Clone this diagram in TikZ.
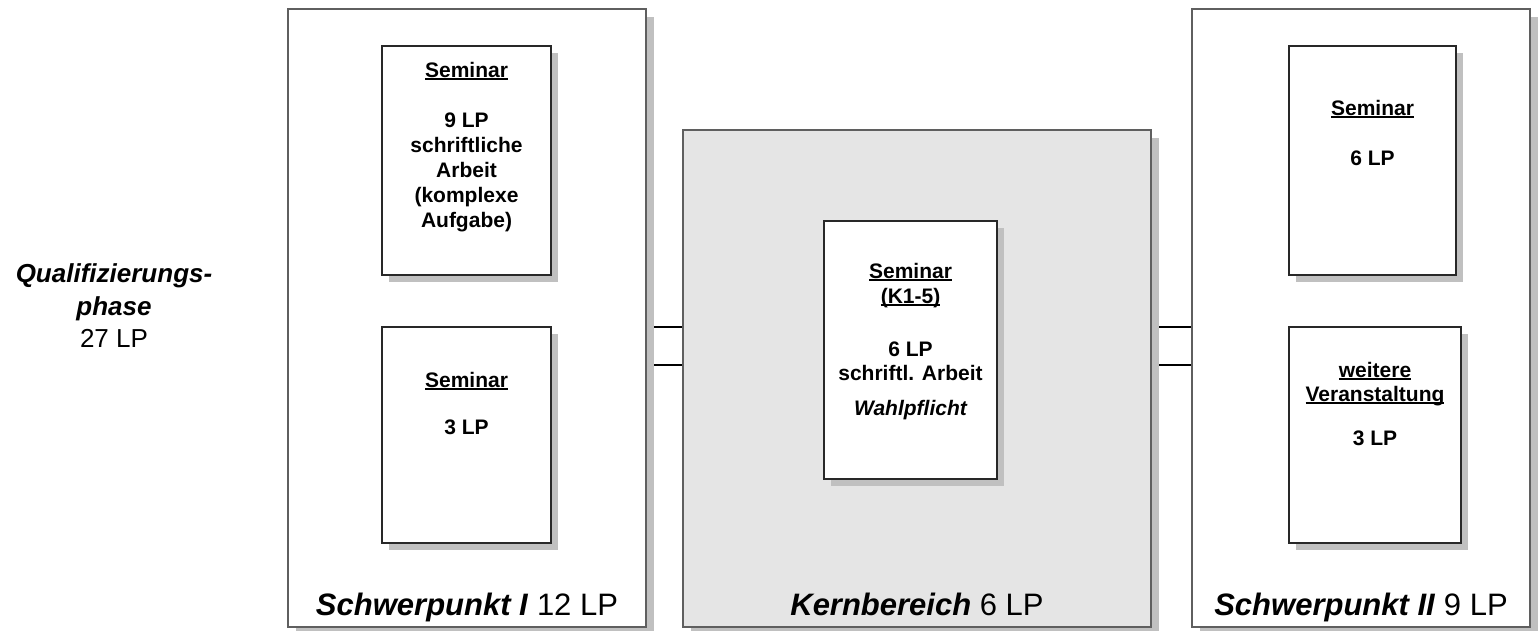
\documentclass[tikz,border=0pt]{standalone}
\usepackage{fontspec}
\setmainfont{Liberation Sans}
\usetikzlibrary{shadows,backgrounds}
\definecolor{shadowgray}{RGB}{192,192,192}
\definecolor{kernfill}{RGB}{229,229,229}
\definecolor{outerline}{RGB}{95,95,95}
\definecolor{innerline}{RGB}{40,40,40}
\newcommand{\undl}[1]{\setbox0\hbox{#1}\leavevmode\rlap{\rule[-3pt]{\wd0}{1.6pt}}\box0}
\begin{document}
\begin{tikzpicture}[x=1pt,y=-1pt,
  outerbox/.style={rectangle, draw=outerline, line width=1.5pt, fill=white,
    inner sep=0pt, outer sep=0pt, anchor=north west,
    general shadow={fill=shadowgray, shadow xshift=8pt, shadow yshift=-8pt}},
  innerbox/.style={rectangle, draw=innerline, line width=1.5pt, fill=white,
    inner sep=0pt, outer sep=0pt, anchor=north west,
    general shadow={fill=shadowgray, shadow xshift=7pt, shadow yshift=-7pt}},
  boxtext/.style={font=\fontsize{21}{25}\selectfont\bfseries, inner sep=0pt, anchor=base},
  bigtext/.style={font=\fontsize{31}{37}\selectfont, inner sep=0pt, anchor=base},
  sidetext/.style={font=\fontsize{26}{33}\selectfont, inner sep=0pt, anchor=base},
  connector/.style={draw=black, line width=2pt}]
\useasboundingbox (0,0) rectangle (1539,630);

% outer boxes
\node[outerbox, minimum width=358pt, minimum height=618pt] (S1) at (288,9) {};
\node[outerbox, fill=kernfill, minimum width=468pt, minimum height=497pt] (K) at (683,130) {};
\node[outerbox, minimum width=338pt, minimum height=618pt] (S2) at (1192,9) {};

% connectors
\begin{pgfonlayer}{background}
\draw[connector] ([yshift=-9pt]S1.east) -- ([yshift=-9pt]S1.east -| K.west);
\draw[connector] ([yshift=-47pt]S1.east) -- ([yshift=-47pt]S1.east -| K.west);
\draw[connector] ([yshift=-9pt]S2.west) -- ([yshift=-9pt]S2.west -| K.east);
\draw[connector] ([yshift=-47pt]S2.west) -- ([yshift=-47pt]S2.west -| K.east);
\end{pgfonlayer}

% inner boxes
\node[innerbox, minimum width=169pt, minimum height=229pt] (b1) at (382,46) {};
\node[innerbox, minimum width=169pt, minimum height=216pt] (b2) at (382,327) {};
\node[innerbox, minimum width=173pt, minimum height=258pt] (bk) at (824,221) {};
\node[innerbox, minimum width=167pt, minimum height=229pt] (b3) at (1289,46) {};
\node[innerbox, minimum width=172pt, minimum height=216pt] (b4) at (1289,327) {};

% texts box 1
\node[boxtext] (t1a) at (466.5,77) {\undl{Seminar}};
\node[boxtext] (t1b) at (466.5,127) {9 LP};
\node[boxtext] (t1c) at (466.5,152) {schriftliche};
\node[boxtext] (t1d) at (466.5,177) {Arbeit};
\node[boxtext] (t1e) at (466.5,202) {(komplexe};
\node[boxtext] (t1f) at (466.5,227) {Aufgabe)};
% box 2
\node[boxtext] (t2a) at (466.5,387) {\undl{Seminar}};
\node[boxtext] (t2b) at (466.5,434) {3 LP};
% Kernbereich box
\node[boxtext] (tka) at (910.5,278) {\undl{Seminar}};
\node[boxtext] (tkb) at (910.5,303) {\undl{(K1-5)}};
\node[boxtext] (tkc) at (910.5,356) {6 LP};
\node[boxtext] (tkd) at (910.5,380) {schriftl. Arbeit};
\node[boxtext] (tke) at (910.5,415) {\itshape Wahlpflicht};
% box 3
\node[boxtext] (t3a) at (1372.5,115) {\undl{Seminar}};
\node[boxtext] (t3b) at (1372.5,165) {6 LP};
% box 4
\node[boxtext] (t4a) at (1375,377) {\undl{weitere}};
\node[boxtext] (t4b) at (1375,401) {\undl{Veranstaltung}};
\node[boxtext] (t4c) at (1375,445) {3 LP};

% bottom labels
\node[bigtext] (l1) at (467,615) {\textbf{\textit{Schwerpunkt I}} 12 LP};
\node[bigtext] (l2) at (917,615) {\textbf{\textit{Kernbereich}} 6 LP};
\node[bigtext] (l3) at (1361,615) {\textbf{\textit{Schwerpunkt II}} 9 LP};

% side label
\node[sidetext] (q1) at (114,282) {\textbf{\textit{Qualifizierungs-}}};
\node[sidetext] (q2) at (114,315) {\textbf{\textit{phase}}};
\node[sidetext] (q3) at (114,347) {27 LP};
\end{tikzpicture}
\end{document}
